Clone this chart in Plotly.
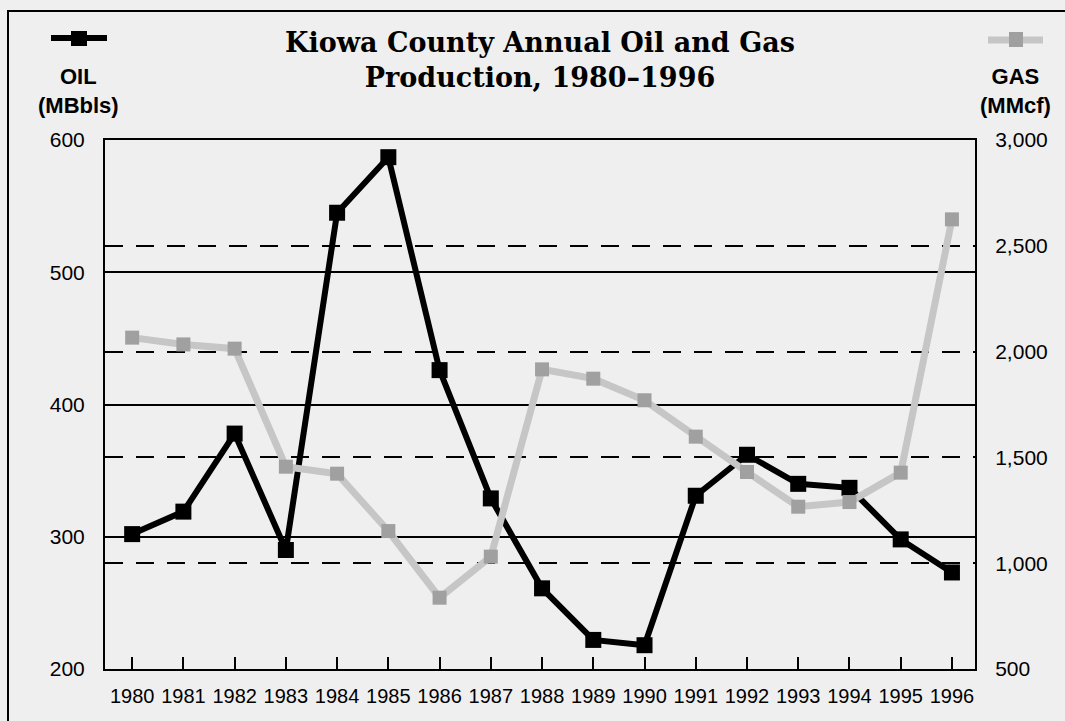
import plotly.graph_objects as go

years = list(range(1980, 1997))
year_labels = [str(y) for y in years]
oil_mbbls = [302, 319, 378, 290, 545, 587, 426, 329, 261, 222, 218, 331, 362, 340, 337, 298, 273]
gas_mmcf = [2066, 2034, 2014, 1456, 1423, 1152, 837, 1031, 1916, 1872, 1770, 1598, 1431, 1267, 1289, 1428, 2625]
oil_ticks = [200, 300, 400, 500, 600]
gas_ticks = [500, 1000, 1500, 2000, 2500, 3000]

BG = "#efefef"
W, H = 1065, 721
ML, MR, MT, MB = 105, 90, 140, 52
PW, PH = W - ML - MR, H - MT - MB


def px(x):
    return (x - ML) / PW


def py(y):
    return (H - MB - y) / PH


fig = go.Figure()
fig.add_trace(go.Scatter(
    x=years, y=gas_mmcf, yaxis="y2", name="GAS (MMcf)",
    mode="lines+markers",
    line=dict(color="#c6c6c6", width=7),
    marker=dict(symbol="square", size=14, color="#a0a0a0", line=dict(width=0)),
))
fig.add_trace(go.Scatter(
    x=years, y=oil_mbbls, yaxis="y", name="OIL (MBbls)",
    mode="lines+markers",
    line=dict(color="#000000", width=6),
    marker=dict(symbol="square", size=16, color="#000000", line=dict(width=0)),
))

shapes = [
    # outer frame
    dict(type="rect", xref="paper", yref="paper", x0=px(8), x1=px(1080), y0=py(740), y1=py(11),
         line=dict(color="black", width=2), fillcolor="rgba(0,0,0,0)", layer="below"),
    # oil legend key
    dict(type="line", xref="paper", yref="paper", x0=px(51), x1=px(107), y0=py(38), y1=py(38),
         line=dict(color="black", width=6)),
    dict(type="rect", xref="paper", yref="paper", x0=px(71), x1=px(87), y0=py(46), y1=py(31),
         line=dict(width=0), fillcolor="black"),
    # gas legend key
    dict(type="line", xref="paper", yref="paper", x0=px(988), x1=px(1043), y0=py(40), y1=py(40),
         line=dict(color="#c6c6c6", width=7)),
    dict(type="rect", xref="paper", yref="paper", x0=px(1009), x1=px(1023), y0=py(47), y1=py(32),
         line=dict(width=0), fillcolor="#a0a0a0"),
]

label_font = dict(family="Liberation Sans, Arial, sans-serif", size=22, color="black")
annotations = [
    dict(text="<b>OIL</b><br><b>(MBbls)</b>", xref="paper", yref="paper", x=px(78), y=py(62),
         xanchor="center", yanchor="top", showarrow=False, font=label_font, align="center"),
    dict(text="<b>GAS</b><br><b>(MMcf)</b>", xref="paper", yref="paper", x=px(1015), y=py(62),
         xanchor="center", yanchor="top", showarrow=False, font=label_font, align="center"),
]

fig.update_layout(
    width=W, height=H,
    margin=dict(l=ML, r=MR, t=MT, b=MB),
    paper_bgcolor=BG, plot_bgcolor=BG,
    showlegend=False,
    title=dict(
        text="<b>Kiowa County Annual Oil and Gas<br>Production, 1980–1996</b>",
        x=0.5, xref="paper", xanchor="center",
        y=1 - 52 / H, yref="container", yanchor="top",
        font=dict(family="DejaVu Serif, serif", size=27, color="black"),
    ),
    xaxis=dict(
        range=[1979.47, 1996.45], tickvals=years, ticktext=year_labels,
        ticks="inside", ticklen=12, tickwidth=2, tickcolor="black",
        showline=True, linewidth=2, linecolor="black", mirror=True,
        showgrid=False, zeroline=False,
        tickfont=dict(family="Liberation Sans, Arial, sans-serif", size=20, color="black"),
        ticklabelstandoff=8,
    ),
    yaxis=dict(
        range=[200, 600], tickvals=oil_ticks,
        ticks="", showline=True, linewidth=2, linecolor="black",
        showgrid=True, gridcolor="black", gridwidth=2, zeroline=False,
        tickfont=dict(family="Liberation Sans, Arial, sans-serif", size=21, color="black"),
        ticklabelstandoff=14,
    ),
    yaxis2=dict(
        range=[500, 3000], tickvals=gas_ticks, tickformat=",",
        overlaying="y", side="right",
        ticks="", showline=True, linewidth=2, linecolor="black",
        showgrid=True, gridcolor="black", gridwidth=2, griddash="18px,13px", zeroline=False,
        tickfont=dict(family="Liberation Sans, Arial, sans-serif", size=21, color="black"),
        ticklabelstandoff=14,
    ),
    shapes=shapes,
    annotations=annotations,
)

fig.write_html(
    "out.html",
    config={"displayModeBar": False},
    post_script="document.body.style.margin='0';document.body.style.background='%s';" % BG,
)
